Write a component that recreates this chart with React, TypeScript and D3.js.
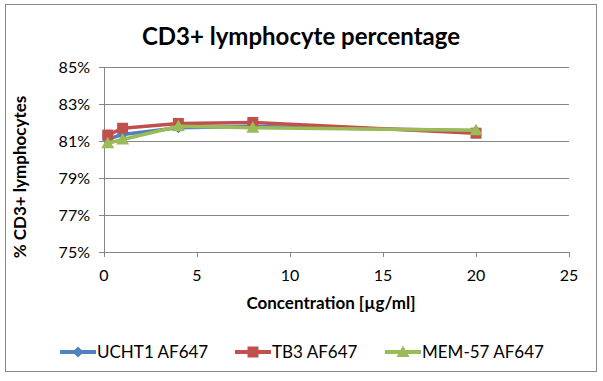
import React from "react";
import * as d3 from "d3";

const concentrations = [0.2, 1, 4, 8, 20];
const ucht1 = [81.1, 81.35, 81.72, 81.78, 81.55];
const tb3 = [81.32, 81.69, 81.95, 82.0, 81.42];
const mem57 = [80.88, 81.08, 81.8, 81.72, 81.58];
const seriesNames = ["UCHT1 AF647", "TB3 AF647", "MEM-57 AF647"];
const seriesColors = ["#4F81BD", "#C0504D", "#9BBB59"];
const seriesShapes = ["diamond", "square", "triangle"];
const xTicks = [0, 5, 10, 15, 20, 25];
const yTicks = [75, 77, 79, 81, 83, 85];

const W = 603;
const H = 381;
const FONT = "Lato, 'Open Sans', sans-serif";

function Marker({ shape, x, y, color }: { shape: string; x: number; y: number; color: string }) {
  if (shape === "square") {
    return <rect x={x - 5.5} y={y - 5.5} width={11} height={11} fill={color} />;
  }
  if (shape === "triangle") {
    return <path d={`M${x},${y - 6.5}L${x + 6.5},${y + 5}L${x - 6.5},${y + 5}Z`} fill={color} />;
  }
  return <path d={`M${x},${y - 5.5}L${x + 5.5},${y}L${x},${y + 5.5}L${x - 5.5},${y}Z`} fill={color} />;
}

export default function App() {
  const x = d3.scaleLinear().domain([0, 25]).range([104, 569]);
  const y = d3.scaleLinear().domain([75, 85]).range([252, 67]);
  const allSeries = [ucht1, tb3, mem57];
  const line = d3
    .line<number>()
    .x((_, i) => x(concentrations[i]))
    .y((d) => y(d));

  const legendX = [60, 235, 385];

  return (
    <svg
      width={W}
      height={H}
      style={{ position: "absolute", left: 0, top: 0, background: "#fff" }}
      fontFamily={FONT}
    >
      <rect x={5.5} y={4.5} width={591} height={367} fill="#fff" stroke="#888" strokeWidth={1} />
      <text x={301} y={45} textAnchor="middle" fontSize={24} fontWeight="bold" fill="#000">
        CD3+ lymphocyte percentage
      </text>

      {yTicks.map((t) => (
        <g key={t}>
          <line x1={99} x2={x(25)} y1={Math.round(y(t)) + 0.5} y2={Math.round(y(t)) + 0.5} stroke="#868686" strokeWidth={1} />
          <text x={90} y={y(t) + 5.5} textAnchor="end" fontSize={16} fill="#000">
            {t}%
          </text>
        </g>
      ))}
      <line x1={104.5} x2={104.5} y1={y(85)} y2={y(75)} stroke="#868686" strokeWidth={1} />
      {xTicks.map((t) => (
        <g key={t}>
          <line x1={Math.round(x(t)) + 0.5} x2={Math.round(x(t)) + 0.5} y1={y(75)} y2={y(75) + 5} stroke="#868686" strokeWidth={1} />
          <text x={x(t)} y={281} textAnchor="middle" fontSize={16} fill="#000">
            {t}
          </text>
        </g>
      ))}

      <text x={331} y={309} textAnchor="middle" fontSize={17} fontWeight="bold" fill="#000">
        Concentration [µg/ml]
      </text>
      <text
        transform={`translate(26,177) rotate(-90)`}
        textAnchor="middle"
        fontSize={17}
        fontWeight="bold"
        fill="#000"
      >
        % CD3+ lymphocytes
      </text>

      {allSeries.map((s, si) => (
        <g key={si}>
          <path d={line(s) || ""} fill="none" stroke={seriesColors[si]} strokeWidth={3.5} strokeLinejoin="round" />
          {s.map((v, i) => (
            <Marker key={i} shape={seriesShapes[si]} x={x(concentrations[i])} y={y(v)} color={seriesColors[si]} />
          ))}
        </g>
      ))}

      {seriesNames.map((n, i) => (
        <g key={n}>
          <line x1={legendX[i]} x2={legendX[i] + 36} y1={352} y2={352} stroke={seriesColors[i]} strokeWidth={4} />
          <Marker shape={seriesShapes[i]} x={legendX[i] + 18} y={352} color={seriesColors[i]} />
          <text x={legendX[i] + 37} y={358} fontSize={17} fill="#000">
            {n}
          </text>
        </g>
      ))}
    </svg>
  );
}
